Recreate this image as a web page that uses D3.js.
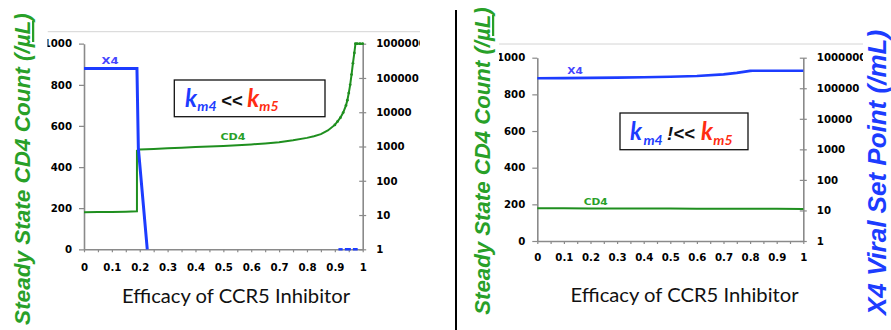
<!DOCTYPE html>
<html>
<head>
<meta charset="utf-8">
<script src="https://cdn.jsdelivr.net/npm/d3@7"></script>
<style>
  html, body { margin: 0; padding: 0; background: #fff; }
  svg { display: block; }
</style>
</head>
<body>
<svg id="chart" width="891" height="330"></svg>
<script>
// ---- shared axis ticks ----
const efficacyTicks = [0, 0.1, 0.2, 0.3, 0.4, 0.5, 0.6, 0.7, 0.8, 0.9, 1];
const efficacyTickLabels = ["0", "0.1", "0.2", "0.3", "0.4", "0.5", "0.6", "0.7", "0.8", "0.9", "1"];
const cd4Ticks = [0, 200, 400, 600, 800, 1000];
const x4Ticks = [1, 10, 100, 1000, 10000, 100000, 1000000];
const x4TickLabels = ["1", "10", "100", "1000", "10000", "100000", "1000000"];

// ---- panel A: km4 << km5 ----
const efficacyCd4A = [0, 0.05, 0.1, 0.15, 0.19, 0.19, 0.2, 0.25, 0.3, 0.35, 0.4, 0.45, 0.5, 0.55, 0.6, 0.65, 0.7, 0.75, 0.8, 0.825, 0.85, 0.875, 0.9, 0.91, 0.92, 0.93, 0.94, 0.945, 0.95, 0.955, 0.96, 0.965, 0.97, 0.974, 0.98, 0.99, 1];
const cd4A = [180, 181, 182, 183, 185, 480, 485, 488, 491, 494, 497, 500, 503, 506, 510, 515, 521, 530, 542, 550, 560, 578, 605, 622, 640, 665, 700, 725, 760, 800, 850, 905, 955, 1000, 1000, 1000, 1000];
const efficacyX4A = [0, 0.19, 0.195, 0.227];
const x4A = [190000, 190000, 900, 1];
const x4TailFromA = [0.913, 0.936];
const x4TailToA = [0.928, 0.982];
const x4TailValueA = [1, 1];

// ---- panel B: km4 !<< km5 ----
const efficacyB = [0, 0.1, 0.2, 0.3, 0.4, 0.5, 0.6, 0.7, 0.75, 0.8, 0.81, 0.9, 1];
const cd4B = [178, 178, 177.5, 177.5, 177, 177, 176.5, 176.5, 176, 176, 176, 175.5, 175];
const x4B = [212000, 214000, 218000, 222000, 228000, 238000, 252000, 285000, 318000, 370000, 376000, 376000, 376000];

const BLUE = "#1c3cff";
const BLUE_LABEL = "#4646ff";
const GREEN = "#1f8f1f";
const GREEN_TITLE = "#28a028";
const RED = "#ff2c12";
const AXIS = "#8a8a8a";

const svg = d3.select("#chart");
svg.append("rect").attr("width", 891).attr("height", 330).attr("fill", "#fff");
const defs = svg.append("defs");

const panels = [
  {
    id: "A",
    left: 84, right: 362.7, top: 43.7, bottom: 249.3,
    clip: [47.5, 420], ruleY: 31.7, xLabelDy: 21,
    xTitle: { x: 236, y: 303 },
    cd4Title: { x: 30, y: 169, size: 22.5 },
    box: { x: 174.3, y: 80, w: 150.7, h: 36.7, offs: [10.7, 23, 47, 73, 85], base: 26.7, sub: 31, op: "<<" },
    x4Label: { x: 110, y: 64, len: 17 },
    cd4Label: { x: 233, y: 139.5, len: 25 },
    x4Width: 3,
    cd4: efficacyCd4A.map((e, i) => [e, cd4A[i]]),
    x4: efficacyX4A.map((e, i) => [e, x4A[i]]),
    tail: x4TailFromA.map((f, i) => [f, x4TailToA[i], x4TailValueA[i]]),
    markFrom: 0.9
  },
  {
    id: "B",
    left: 537.3, right: 803.3, top: 57.7, bottom: 241,
    clip: [499, 863], ruleY: 44, xLabelDy: 19.3,
    xTitle: { x: 684.5, y: 301.7 },
    cd4Title: { x: 490, y: 161, size: 22.2 },
    box: { x: 620, y: 113, w: 128, h: 36.7, offs: [10, 23.5, 47, 81, 93.3], base: 26.7, sub: 31.7, op: "!<<" },
    x4Label: { x: 575, y: 74, len: 15.5 },
    cd4Label: { x: 595.7, y: 205, len: 24 },
    x4Width: 2.6,
    cd4: efficacyB.map((e, i) => [e, cd4B[i]]),
    x4: efficacyB.map((e, i) => [e, x4B[i]]),
    tail: [],
    markFrom: 2
  }
];

panels.forEach(p => {
  defs.append("clipPath").attr("id", "clip" + p.id)
    .append("rect").attr("x", p.clip[0]).attr("y", 0)
    .attr("width", p.clip[1] - p.clip[0]).attr("height", 330);

  const g = svg.append("g").attr("clip-path", `url(#clip${p.id})`);

  const x = d3.scaleLinear().domain([0, 1]).range([p.left, p.right]);
  const yL = d3.scaleLinear().domain([0, 1000]).range([p.bottom, p.top]);
  const yR = d3.scaleLog().domain([1, 1000000]).range([p.bottom, p.top]);

  // thin rule above the plot
  g.append("line").attr("x1", p.clip[0]).attr("x2", p.clip[1])
    .attr("y1", p.ruleY).attr("y2", p.ruleY)
    .attr("stroke", "#d4d4d4").attr("stroke-width", 1);

  // left CD4 axis
  const axL = g.append("g").attr("transform", `translate(${p.left},0)`)
    .call(d3.axisLeft(yL).tickValues(cd4Ticks).tickSizeOuter(0).tickSizeInner(5).tickPadding(7).tickFormat(d3.format("d")));

  // right log X4 axis
  const axR = g.append("g").attr("transform", `translate(${p.right},0)`)
    .call(d3.axisRight(yR).tickValues(x4Ticks).tickSizeOuter(0).tickSizeInner(3.5).tickPadding(10)
      .tickFormat((d, i) => x4TickLabels[i]));
  axR.selectAll(".tick line").attr("x1", -3.5);

  // bottom efficacy axis: minor ticks every 0.05, labels every 0.1
  const axB = g.append("g").attr("transform", `translate(0,${p.bottom})`)
    .call(d3.axisBottom(x).tickValues(d3.range(0, 1.0001, 0.05)).tickSizeOuter(0).tickSizeInner(3).tickPadding(p.xLabelDy - 10)
      .tickFormat(d => {
        const i = efficacyTicks.findIndex(t => Math.abs(t - d) < 1e-6);
        return i >= 0 ? efficacyTickLabels[i] : "";
      }));

  [axL, axR, axB].forEach(a => {
    a.select(".domain").attr("stroke", AXIS).attr("stroke-width", 1.6);
    a.selectAll(".tick line").attr("stroke", AXIS).attr("stroke-width", 1.2);
    a.selectAll(".tick text").attr("fill", "#000")
      .style("font-family", "'DejaVu Sans', Verdana, sans-serif")
      .style("font-weight", "bold").style("font-size", "10.2px");
  });

  // CD4 series (left axis)
  const lineL = d3.line().x(d => x(d[0])).y(d => yL(d[1]));
  g.append("path").datum(p.cd4).attr("d", lineL)
    .attr("fill", "none").attr("stroke", GREEN).attr("stroke-width", 2);
  g.selectAll(".cd4mark" + p.id).data(p.cd4.filter(d => d[0] >= p.markFrom))
    .join("circle").attr("cx", d => x(d[0])).attr("cy", d => yL(d[1]))
    .attr("r", 1.4).attr("fill", GREEN);

  // X4 series (right log axis)
  const lineR = d3.line().x(d => x(d[0])).y(d => yR(d[1]));
  g.append("path").datum(p.x4).attr("d", lineR)
    .attr("fill", "none").attr("stroke", BLUE).attr("stroke-width", p.x4Width)
    .attr("stroke-linejoin", "miter");
  p.tail.forEach(t => {
    g.append("line").attr("x1", x(t[0])).attr("x2", x(t[1]))
      .attr("y1", yR(t[2])).attr("y2", yR(t[2]))
      .attr("stroke", BLUE).attr("stroke-width", 2.4).attr("stroke-dasharray", "6,2");
  });

  // series labels
  g.append("text").attr("x", p.x4Label.x).attr("y", p.x4Label.y)
    .attr("text-anchor", "middle").attr("textLength", p.x4Label.len).attr("lengthAdjust", "spacingAndGlyphs")
    .style("font-family", "'DejaVu Sans', sans-serif").style("font-weight", "bold").style("font-size", "8px")
    .attr("fill", BLUE_LABEL).text("X4");
  g.append("text").attr("x", p.cd4Label.x).attr("y", p.cd4Label.y)
    .attr("text-anchor", "middle").attr("textLength", p.cd4Label.len).attr("lengthAdjust", "spacingAndGlyphs")
    .style("font-family", "'DejaVu Sans', sans-serif").style("font-weight", "bold").style("font-size", "8px")
    .attr("fill", GREEN_TITLE).text("CD4");

  // rate-constant comparison box
  const b = p.box;
  g.append("rect").attr("x", b.x).attr("y", b.y).attr("width", b.w).attr("height", b.h)
    .attr("fill", "#fff").attr("stroke", "#111").attr("stroke-width", 1.3);
  const parts = [
    { t: "k", c: BLUE, size: 24, sub: false, font: "Lato, 'Open Sans', sans-serif" },
    { t: "m4", c: BLUE, size: 14, sub: true, font: "Lato, 'Open Sans', sans-serif" },
    { t: b.op, c: "#111", size: 18.5, sub: false, font: "'Liberation Sans', Arial, sans-serif", italic: b.op !== "<<" },
    { t: "k", c: RED, size: 24, sub: false, font: "Lato, 'Open Sans', sans-serif" },
    { t: "m5", c: RED, size: 14, sub: true, font: "Lato, 'Open Sans', sans-serif" }
  ];
  parts.forEach((pt, i) => {
    g.append("text").attr("x", b.x + b.offs[i]).attr("y", b.y + (pt.sub ? b.sub : b.base))
      .style("font-family", pt.font).style("font-weight", "bold")
      .style("font-style", (pt.italic === undefined || pt.italic) ? "italic" : "normal")
      .style("font-size", pt.size + "px")
      .attr("fill", pt.c).text(pt.t);
  });

  // x-axis title
  g.append("text").attr("x", p.xTitle.x).attr("y", p.xTitle.y).attr("text-anchor", "middle")
    .attr("textLength", 228).attr("lengthAdjust", "spacingAndGlyphs")
    .style("font-family", "Lato, 'Open Sans', sans-serif").style("font-size", "18.5px")
    .attr("fill", "#111").text("Efficacy of CCR5 Inhibitor");

  // left y-axis title
  const t = svg.append("text")
    .attr("transform", `translate(${p.cd4Title.x},${p.cd4Title.y}) rotate(-90)`)
    .attr("text-anchor", "middle")
    .style("font-family", "'Liberation Sans', Arial, sans-serif").style("font-weight", "bold")
    .style("font-style", "italic").style("font-size", p.cd4Title.size + "px")
    .attr("fill", GREEN_TITLE);
  t.append("tspan").text("Steady State CD4 Count (/");
  t.append("tspan").attr("text-decoration", "underline").style("text-decoration", "underline").text("µL");
  t.append("tspan").text(")");
});

// right y-axis title (panel B)
svg.append("text")
  .attr("transform", "translate(886,172.5) rotate(-90)")
  .attr("text-anchor", "middle")
  .style("font-family", "'Liberation Sans', Arial, sans-serif").style("font-weight", "bold")
  .style("font-style", "italic").style("font-size", "26px")
  .attr("fill", BLUE).text("X4 Viral Set Point (/mL)");

// divider between the two panels
svg.append("line").attr("x1", 456).attr("x2", 456).attr("y1", 10).attr("y2", 330)
  .attr("stroke", "#000").attr("stroke-width", 2);
</script>
</body>
</html>
